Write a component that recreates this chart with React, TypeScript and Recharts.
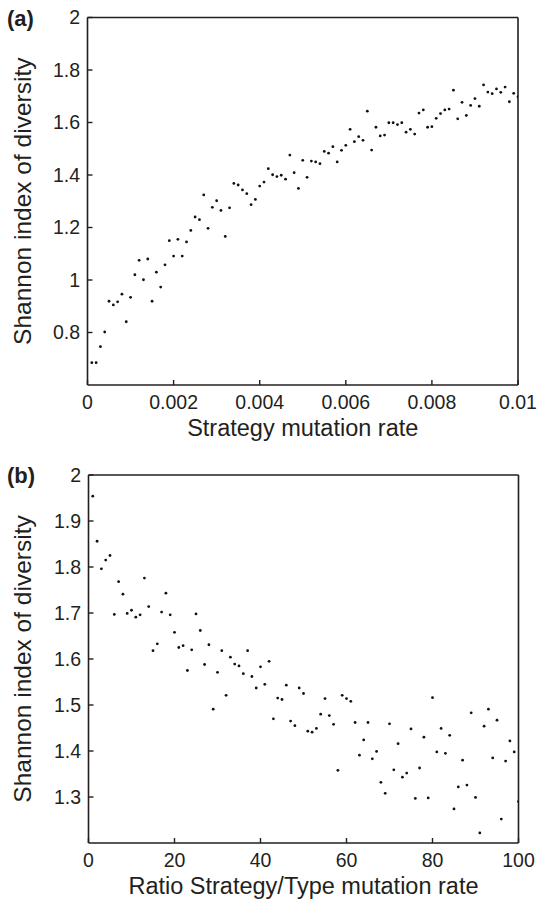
import React from 'react';
import { ScatterChart, Scatter, XAxis, YAxis } from 'recharts';

// ---------- Panel (a) ----------
const strategyRate = [
  0.0001, 0.0002, 0.0003, 0.0004, 0.0005, 0.0006, 0.0007, 0.0008, 0.0009, 0.001,
  0.0011, 0.0012, 0.0013, 0.0014, 0.0015, 0.0016, 0.0017, 0.0018, 0.0019, 0.002,
  0.0021, 0.0022, 0.0023, 0.0024, 0.0025, 0.0026, 0.0027, 0.0028, 0.0029, 0.003,
  0.0031, 0.0032, 0.0033, 0.0034, 0.0035, 0.0036, 0.0037, 0.0038, 0.0039, 0.004,
  0.0041, 0.0042, 0.0043, 0.0044, 0.0045, 0.0046, 0.0047, 0.0048, 0.0049, 0.005,
  0.0051, 0.0052, 0.0053, 0.0054, 0.0055, 0.0056, 0.0057, 0.0058, 0.0059, 0.006,
  0.0061, 0.0062, 0.0063, 0.0064, 0.0065, 0.0066, 0.0067, 0.0068, 0.0069, 0.007,
  0.0071, 0.0072, 0.0073, 0.0074, 0.0075, 0.0076, 0.0077, 0.0078, 0.0079, 0.008,
  0.0081, 0.0082, 0.0083, 0.0084, 0.0085, 0.0086, 0.0087, 0.0088, 0.0089, 0.009,
  0.0091, 0.0092, 0.0093, 0.0094, 0.0095, 0.0096, 0.0097, 0.0098, 0.0099, 0.01,
];
const diversityA = [
  0.685, 0.685, 0.746, 0.802, 0.919, 0.905, 0.917, 0.946, 0.841, 0.934,
  1.020, 1.075, 1.001, 1.080, 0.919, 1.030, 0.973, 1.058, 1.150, 1.091,
  1.155, 1.091, 1.145, 1.189, 1.240, 1.230, 1.324, 1.197, 1.277, 1.302,
  1.265, 1.166, 1.275, 1.368, 1.362, 1.343, 1.329, 1.287, 1.307, 1.358,
  1.373, 1.424, 1.401, 1.394, 1.399, 1.384, 1.476, 1.409, 1.349, 1.456,
  1.391, 1.453, 1.450, 1.443, 1.490, 1.483, 1.508, 1.450, 1.494, 1.513,
  1.574, 1.527, 1.546, 1.532, 1.643, 1.495, 1.582, 1.549, 1.552, 1.599,
  1.599, 1.592, 1.599, 1.563, 1.574, 1.556, 1.636, 1.648, 1.582, 1.584,
  1.616, 1.634, 1.648, 1.651, 1.723, 1.614, 1.677, 1.627, 1.665, 1.691,
  1.662, 1.743, 1.716, 1.710, 1.728, 1.715, 1.735, 1.679, 1.711, 1.698,
];
const xTicksA = [0, 0.002, 0.004, 0.006, 0.008, 0.01];
const yTicksA = [0.8, 1, 1.2, 1.4, 1.6, 1.8, 2];

// ---------- Panel (b) ----------
const ratioRate = [
  1, 2, 3, 4, 5, 6, 7, 8, 9, 10,
  11, 12, 13, 14, 15, 16, 17, 18, 19, 20,
  21, 22, 23, 24, 25, 26, 27, 28, 29, 30,
  31, 32, 33, 34, 35, 36, 37, 38, 39, 40,
  41, 42, 43, 44, 45, 46, 47, 48, 49, 50,
  51, 52, 53, 54, 55, 56, 57, 58, 59, 60,
  61, 62, 63, 64, 65, 66, 67, 68, 69, 70,
  71, 72, 73, 74, 75, 76, 77, 78, 79, 80,
  81, 82, 83, 84, 85, 86, 87, 88, 89, 90,
  91, 92, 93, 94, 95, 96, 97, 98, 99, 100,
];
const diversityB = [
  1.954, 1.856, 1.796, 1.815, 1.825, 1.697, 1.768, 1.741, 1.699, 1.706,
  1.691, 1.696, 1.776, 1.714, 1.618, 1.633, 1.702, 1.743, 1.696, 1.658,
  1.625, 1.629, 1.575, 1.620, 1.698, 1.662, 1.588, 1.631, 1.491, 1.571,
  1.618, 1.521, 1.604, 1.589, 1.585, 1.568, 1.618, 1.562, 1.537, 1.583,
  1.545, 1.595, 1.470, 1.515, 1.512, 1.543, 1.465, 1.455, 1.537, 1.525,
  1.443, 1.441, 1.449, 1.480, 1.514, 1.477, 1.458, 1.358, 1.521, 1.514,
  1.508, 1.462, 1.391, 1.424, 1.462, 1.383, 1.399, 1.332, 1.308, 1.459,
  1.359, 1.416, 1.343, 1.352, 1.448, 1.297, 1.363, 1.430, 1.298, 1.516,
  1.398, 1.449, 1.395, 1.434, 1.274, 1.322, 1.380, 1.326, 1.483, 1.299,
  1.222, 1.454, 1.491, 1.385, 1.467, 1.252, 1.378, 1.422, 1.398, 1.290,
];
const xTicksB = [0, 20, 40, 60, 80, 100];
const yTicksB = [1.3, 1.4, 1.5, 1.6, 1.7, 1.8, 1.9, 2];

const dataA = strategyRate.map((x, i) => ({ x, y: diversityA[i] }));
const dataB = ratioRate.map((x, i) => ({ x, y: diversityB[i] }));

const FONT = '"Liberation Sans", Arial, Helvetica, sans-serif';
const INK = '#231f20';
const TICK_FONT = 19.5;
const TITLE_FONT = 23.5;

const tickStyle = { fontSize: TICK_FONT, fill: INK, fontFamily: FONT };
const axisLine = { stroke: INK, strokeWidth: 1.6 };
const tickLine = { stroke: INK, strokeWidth: 1.4 };

const Dot = (p: any) => <circle cx={p.cx} cy={p.cy} r={1.4} fill="#111" />;

const yTitle = (text: string, cxOffset: number) => (props: any) => {
  const vb = props.viewBox || {};
  const cx = (vb.x ?? 0) + cxOffset;
  const cy = (vb.y ?? 0) + (vb.height ?? 0) / 2;
  return (
    <text
      x={cx}
      y={cy}
      transform={`rotate(-90 ${cx} ${cy})`}
      textAnchor="middle"
      dominantBaseline="central"
      fontSize={TITLE_FONT + 1}
      fontFamily={FONT}
      fill={INK}
    >
      {text}
    </text>
  );
};

const xTitle = (text: string, baselineOffset: number) => (props: any) => {
  const vb = props.viewBox || {};
  const cx = (vb.x ?? 0) + (vb.width ?? 0) / 2;
  const y = (vb.y ?? 0) + baselineOffset;
  return (
    <text x={cx} y={y} textAnchor="middle" fontSize={TITLE_FONT} fontFamily={FONT} fill={INK}>
      {text}
    </text>
  );
};

type PanelProps = {
  data: { x: number; y: number }[];
  xDomain: [number, number];
  yDomain: [number, number];
  xTicks: number[];
  yTicks: number[];
  xLabel: string;
  height: number;
  topH: number;
  leftW: number;
  rightW: number;
  bottomH: number;
};

function Panel(p: PanelProps) {
  return (
    <ScatterChart width={538} height={p.height} margin={{ top: 0, right: 0, bottom: 0, left: 0 }}>
      <XAxis
        xAxisId="main"
        type="number"
        dataKey="x"
        domain={p.xDomain}
        ticks={p.xTicks}
        interval={0}
        allowDataOverflow
        height={p.bottomH}
        axisLine={axisLine}
        tickLine={tickLine}
        tickSize={-5}
        tickMargin={15}
        tick={tickStyle}
        label={xTitle(p.xLabel, 51)}
      />
      <XAxis
        xAxisId="top"
        orientation="top"
        type="number"
        domain={p.xDomain}
        ticks={p.xTicks}
        interval={0}
        allowDataOverflow
        height={p.topH}
        axisLine={axisLine}
        tickLine={tickLine}
        tickSize={-5}
        tick={false}
      />
      <YAxis
        yAxisId="main"
        type="number"
        dataKey="y"
        domain={p.yDomain}
        ticks={p.yTicks}
        interval={0}
        allowDataOverflow
        width={p.leftW}
        axisLine={axisLine}
        tickLine={tickLine}
        tickSize={-5}
        tickMargin={12.5}
        tick={tickStyle}
        label={yTitle('Shannon index of diversity', 22)}
      />
      <YAxis
        yAxisId="right"
        orientation="right"
        type="number"
        domain={p.yDomain}
        ticks={p.yTicks}
        interval={0}
        allowDataOverflow
        width={p.rightW}
        axisLine={axisLine}
        tickLine={tickLine}
        tickSize={-5}
        tick={false}
      />
      <Scatter
        xAxisId="main"
        yAxisId="main"
        data={p.data}
        shape={Dot}
        isAnimationActive={false}
      />
    </ScatterChart>
  );
}

const panelLabelStyle: React.CSSProperties = {
  position: 'absolute',
  left: 7,
  fontFamily: FONT,
  fontWeight: 'bold',
  fontSize: 22,
  lineHeight: '22px',
  color: INK,
};

export default function App() {
  return (
    <div style={{ position: 'absolute', left: 0, top: 0, width: 538, height: 902, background: '#fff' }}>
      <div style={{ position: 'absolute', left: 0, top: 0 }}>
        <Panel
          data={dataA}
          xDomain={[0, 0.01]}
          yDomain={[0.6, 2]}
          xTicks={xTicksA}
          yTicks={yTicksA}
          xLabel="Strategy mutation rate"
          height={450}
          topH={17.5}
          leftW={87.5}
          rightW={20}
          bottomH={65}
        />
      </div>
      <div style={{ position: 'absolute', left: 0, top: 450 }}>
        <Panel
          data={dataB}
          xDomain={[0, 100]}
          yDomain={[1.2, 2]}
          xTicks={xTicksB}
          yTicks={yTicksB}
          xLabel="Ratio Strategy/Type mutation rate"
          height={452}
          topH={25}
          leftW={88.5}
          rightW={19.5}
          bottomH={59}
        />
      </div>
      <div style={{ ...panelLabelStyle, top: 8 }}>(a)</div>
      <div style={{ ...panelLabelStyle, top: 465 }}>(b)</div>
    </div>
  );
}
